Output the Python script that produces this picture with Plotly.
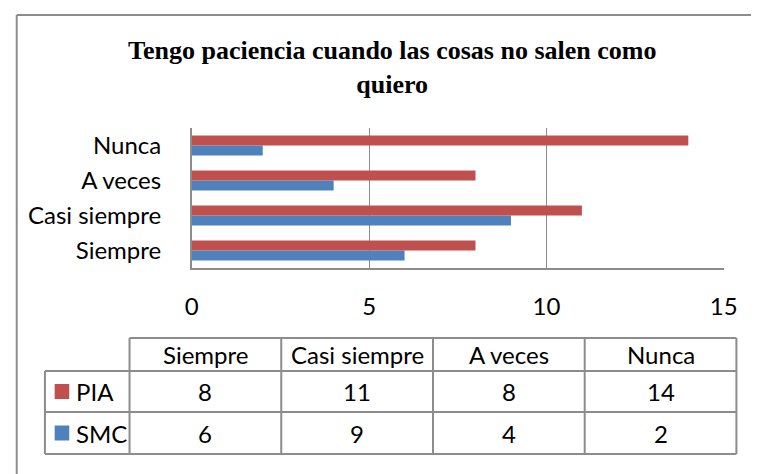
import plotly.graph_objects as go

categories = ["Siempre", "Casi siempre", "A veces", "Nunca"]
series_names = ["PIA", "SMC"]
pia_values = [8, 11, 8, 14]
smc_values = [6, 9, 4, 2]
x_ticks = [0, 5, 10, 15]
title_text = "Tengo paciencia cuando las cosas no salen como<br>quiero"

W, H = 765, 474
RED = "#C0504D"
BLUE = "#4F81BD"
GRID = "#8C8C8C"
FONT = "Lato"
FS = 24

def px(x):
    return x / W

def py(y):
    return 1 - y / H

fig = go.Figure()
fig.add_trace(go.Bar(y=categories, x=smc_values, orientation="h", name=series_names[1],
                     marker=dict(color=BLUE, line=dict(width=0))))
fig.add_trace(go.Bar(y=categories, x=pia_values, orientation="h", name=series_names[0],
                     marker=dict(color=RED, line=dict(width=0))))

fig.update_layout(
    width=W, height=H,
    margin=dict(l=0, r=0, t=0, b=0),
    paper_bgcolor="white", plot_bgcolor="white",
    showlegend=False,
    barmode="group", bargap=0.43, bargroupgap=0,
    font=dict(family=FONT, size=FS, color="black"),
    xaxis=dict(domain=[px(190), px(737)], range=[0, 15], tickvals=x_ticks,
               showgrid=True, gridcolor=GRID, gridwidth=1.3,
               showline=True, linecolor=GRID, linewidth=1.6,
               zeroline=False, ticks="", ticklabelstandoff=16,
               tickfont=dict(family=FONT, size=FS)),
    yaxis=dict(domain=[py(268), py(128)], categoryorder="array",
               categoryarray=categories, showgrid=False,
               showline=True, linecolor=GRID, linewidth=1.6,
               ticks="", ticklabelstandoff=24,
               tickfont=dict(family=FONT, size=FS)),
)

shapes = []
annotations = []

# outer chart border (top and left visible)
shapes.append(dict(type="line", xref="paper", yref="paper",
                   x0=px(10), x1=1.0, y0=py(15), y1=py(15),
                   line=dict(color=GRID, width=2)))
shapes.append(dict(type="line", xref="paper", yref="paper",
                   x0=px(10), x1=px(10), y0=py(15), y1=0,
                   line=dict(color=GRID, width=2)))

# title
annotations.append(dict(text="<b>" + title_text + "</b>", xref="paper", yref="paper",
                        x=px(396), y=py(34), xanchor="center", yanchor="top",
                        showarrow=False, align="center",
                        font=dict(family="Liberation Serif", size=26, color="black")))

# data table
col_left = 39
col_x = [126, 282, 438, 594, 750]
row_y = [338, 371, 412, 454]
lw = dict(color=GRID, width=2)
shapes.append(dict(type="line", xref="paper", yref="paper",
                   x0=px(col_x[0]), x1=px(col_x[-1]), y0=py(row_y[0]), y1=py(row_y[0]), line=lw))
for ry in row_y[1:]:
    shapes.append(dict(type="line", xref="paper", yref="paper",
                       x0=px(col_left), x1=px(col_x[-1]), y0=py(ry), y1=py(ry), line=lw))
shapes.append(dict(type="line", xref="paper", yref="paper",
                   x0=px(col_left), x1=px(col_left), y0=py(row_y[1]), y1=py(row_y[-1]), line=lw))
for cx in col_x:
    shapes.append(dict(type="line", xref="paper", yref="paper",
                       x0=px(cx), x1=px(cx), y0=py(row_y[0]), y1=py(row_y[-1]), line=lw))

for i, cat in enumerate(categories):
    cxm = (col_x[i] + col_x[i + 1]) / 2
    cym = (row_y[0] + row_y[1]) / 2
    annotations.append(dict(text=cat, xref="paper", yref="paper", x=px(cxm), y=py(cym),
                            xanchor="center", yanchor="middle", showarrow=False,
                            font=dict(family=FONT, size=FS, color="black")))

rows = [(series_names[0], pia_values, RED), (series_names[1], smc_values, BLUE)]
for r, (name, vals, color) in enumerate(rows):
    y0, y1 = row_y[r + 1], row_y[r + 2]
    cym = (y0 + y1) / 2
    shapes.append(dict(type="rect", xref="paper", yref="paper",
                       x0=px(49), x1=px(64), y0=py(cym - 7.5), y1=py(cym + 7.5),
                       fillcolor=color, line=dict(width=0)))
    annotations.append(dict(text=name, xref="paper", yref="paper", x=px(69), y=py(cym),
                            xanchor="left", yanchor="middle", showarrow=False,
                            font=dict(family=FONT, size=FS, color="black")))
    for i, v in enumerate(vals):
        cxm = (col_x[i] + col_x[i + 1]) / 2
        annotations.append(dict(text=str(v), xref="paper", yref="paper", x=px(cxm), y=py(cym),
                                xanchor="center", yanchor="middle", showarrow=False,
                                font=dict(family=FONT, size=FS, color="black")))

fig.update_layout(shapes=shapes, annotations=annotations)
fig.write_html("out.html", config={"displayModeBar": False},
               post_script="document.body.style.margin='0px';document.body.style.overflow='hidden';"
                           "document.documentElement.style.overflow='hidden';")
